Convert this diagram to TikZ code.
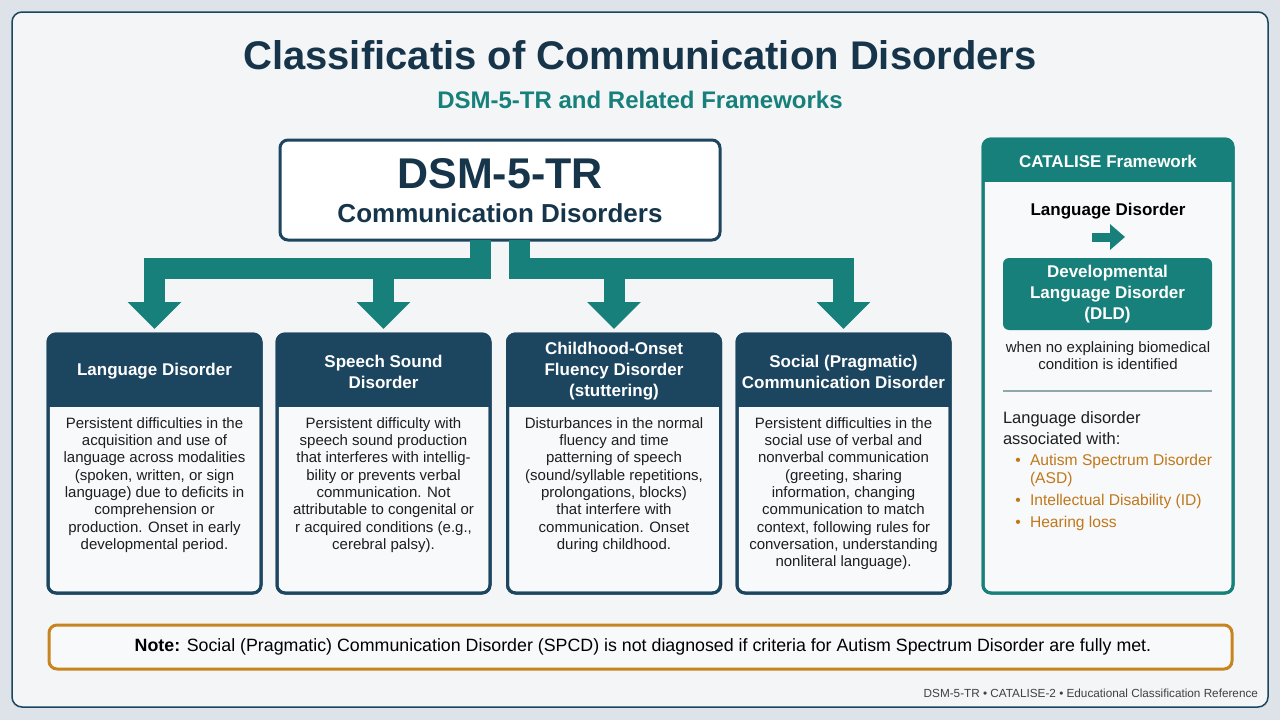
\documentclass[tikz,border=0pt]{standalone}
\usepackage{fontspec}
\setmainfont{Liberation Sans}
\usetikzlibrary{arrows.meta}
\definecolor{navy}{HTML}{1C4560}
\definecolor{titlec}{HTML}{16354B}
\definecolor{tealc}{HTML}{17807B}
\definecolor{orng}{HTML}{C8841F}
\definecolor{orngtxt}{HTML}{C0781A}
\definecolor{bgout}{HTML}{DDE3E8}
\definecolor{bgin}{HTML}{F4F5F6}
\definecolor{boxfill}{HTML}{F8F9FA}
\definecolor{bodytext}{HTML}{1E1E1E}
\definecolor{sepc}{HTML}{8FA8AE}
\newcommand\mkcat[4]{%
  \node[catbox] (#1) at (#2,463.5) {};
  \begin{scope}
    \clip[rounded corners=8pt] (#1.north west) rectangle (#1.south east);
    \fill[navy] (#1.north west) rectangle ([yshift=-73pt]#1.north east);
  \end{scope}
  \draw[navy, line width=3pt, rounded corners=8pt] (#1.north west) rectangle (#1.south east);
  \node[cathead] (#1h) at ([yshift=-37.5pt]#1.north) {#3};
  \node[catbody] (#1t) at ([yshift=-83.5pt]#1.north) {#4};
}
\begin{document}
\begin{tikzpicture}[x=1pt,y=-1pt,
  every node/.style={inner sep=0pt, outer sep=0pt},
  catbox/.style={draw=navy, line width=3pt, rounded corners=8pt, fill=boxfill, minimum width=213pt, minimum height=259pt},
  cathead/.style={text=white, font=\bfseries\fontsize{17}{21}\selectfont, align=center},
  catbody/.style={text=bodytext, font=\fontsize{15}{17.3}\selectfont, align=center, anchor=north},
  conn/.style={draw=tealc, line width=21pt, line join=miter, -{Triangle[width=52pt,length=27pt]}, shorten >=5pt},
]
% background
\fill[bgout] (0,0) rectangle (1280,720);
\useasboundingbox (0,0) rectangle (1280,720);
\draw[navy, line width=1.5pt, rounded corners=10pt, fill=bgin] (12,12) rectangle (1268,707);

% titles
\node[anchor=base, text=titlec, font=\bfseries\fontsize{40}{44}\selectfont] (title) at (640,69) {Classificatis of Communication Disorders};
\node[anchor=base, text=tealc, font=\bfseries\fontsize{24}{28}\selectfont] (subtitle) at (640,108) {DSM-5-TR and Related Frameworks};

% top box
\node[draw=navy, line width=3pt, rounded corners=8pt, fill=white, minimum width=440pt, minimum height=100pt] (top) at (500,190) {};
\node[anchor=base, text=titlec, font=\bfseries\fontsize{43}{46}\selectfont] (dsm) at (500,188) {DSM-5-TR};
\node[anchor=base, text=titlec, font=\bfseries\fontsize{26}{30}\selectfont] (comm) at (500,222) {Communication Disorders};

% category boxes
\mkcat{b1}{154.5}{Language Disorder}{Persistent difficulties in the\\acquisition and use of\\language across modalities\\(spoken, written, or sign\\language) due to deficits in\\comprehension or\\production. Onset in early\\developmental period.}
\mkcat{b2}{383.5}{Speech Sound\\Disorder}{Persistent difficulty with\\speech sound production\\that interferes with intellig-\\bility or prevents verbal\\communication. Not\\attributable to congenital or\\r acquired conditions (e.g.,\\cerebral palsy).}
\mkcat{b3}{614}{Childhood-Onset\\Fluency Disorder\\(stuttering)}{Disturbances in the normal\\fluency and time\\patterning of speech\\(sound/syllable repetitions,\\prolongations, blocks)\\that interfere with\\communication. Onset\\during childhood.}
\mkcat{b4}{843.5}{Social (Pragmatic)\\Communication Disorder}{Persistent difficulties in the\\social use of verbal and\\nonverbal communication\\(greeting, sharing\\information, changing\\communication to match\\context, following rules for\\conversation, understanding\\nonliteral language).}

% connectors
\coordinate (jl) at (480.5,268.5);
\coordinate (jr) at (519.5,268.5);
\draw[conn] ([xshift=-19.5pt]top.south) -- (jl) -| (b1.north);
\draw[conn] (b2.north |- jl) -- (b2.north);
\draw[conn] ([xshift=19.5pt]top.south) -- (jr) -| (b4.north);
\draw[conn] (b3.north |- jr) -- (b3.north);

% CATALISE panel
\node[draw=tealc, line width=3pt, rounded corners=8pt, fill=boxfill, minimum width=250pt, minimum height=454pt] (cat) at (1108,366) {};
\begin{scope}
  \clip[rounded corners=8pt] (cat.north west) rectangle (cat.south east);
  \fill[tealc] (cat.north west) rectangle ([yshift=-43pt]cat.north east);
\end{scope}
\draw[tealc, line width=3pt, rounded corners=8pt] (cat.north west) rectangle (cat.south east);
\node[text=white, font=\bfseries\fontsize{17}{21}\selectfont] (cath) at (1108,161) {CATALISE Framework};
\node[text=black, font=\bfseries\fontsize{17}{21}\selectfont] (ldl) at (1108,211) {Language Disorder};
\coordinate (a1) at (1092,237);
\coordinate (a2) at (1125,237);
\draw[tealc, line width=9pt, -{Triangle[width=25pt,length=15pt]}] (a1) -- (a2);
\node[fill=tealc, rounded corners=6pt, minimum width=209pt, minimum height=72pt, text=white, font=\bfseries\fontsize{17}{21}\selectfont, align=center] (dld) at (1107.5,294) {Developmental\\Language Disorder\\(DLD)};
\node[text=bodytext, font=\fontsize{15}{17}\selectfont, align=center] (when) at (1108,355.5) {when no explaining biomedical\\condition is identified};
\coordinate (s1) at (1003,391);
\coordinate (s2) at (1212,391);
\draw[sepc, line width=1.5pt] (s1) -- (s2);
\node[anchor=base west, text=bodytext, font=\fontsize{16.5}{21}\selectfont] (ld1) at (1003,423) {Language disorder};
\node[anchor=base west, text=bodytext, font=\fontsize{16.5}{21}\selectfont] (ld2) at (1003,444) {associated with:};
\node[anchor=base west, text=orngtxt, font=\fontsize{15.6}{18}\selectfont] (i1) at (1030,465.5) {Autism Spectrum Disorder};
\node[anchor=base west, text=orngtxt, font=\fontsize{15.6}{18}\selectfont] (i1b) at (1030,483) {(ASD)};
\node[anchor=base west, text=orngtxt, font=\fontsize{15.6}{18}\selectfont] (i2) at (1030,505) {Intellectual Disability (ID)};
\node[anchor=base west, text=orngtxt, font=\fontsize{15.6}{18}\selectfont] (i3) at (1030,527) {Hearing loss};
\foreach \n in {i1,i2,i3}{
  \node[anchor=base, text=orngtxt, font=\fontsize{15.6}{18}\selectfont] at ([xshift=-12pt]\n.base west) {•};
}

% note
\node[draw=orng, line width=3pt, rounded corners=8pt, fill=boxfill, minimum width=1183pt, minimum height=44pt] (notebox) at (640.5,647) {};
\node[text=black, font=\fontsize{17.8}{20}\selectfont] (note) at (643,647) {\textbf{Note:} Social (Pragmatic) Communication Disorder (SPCD) is not diagnosed if criteria for Autism Spectrum Disorder are fully met.};

% footer
\node[anchor=base east, text=bodytext!85, font=\fontsize{11.75}{13}\selectfont] (foot) at (1258,697) {DSM-5-TR • CATALISE-2 • Educational Classification Reference};
\end{tikzpicture}
\end{document}
